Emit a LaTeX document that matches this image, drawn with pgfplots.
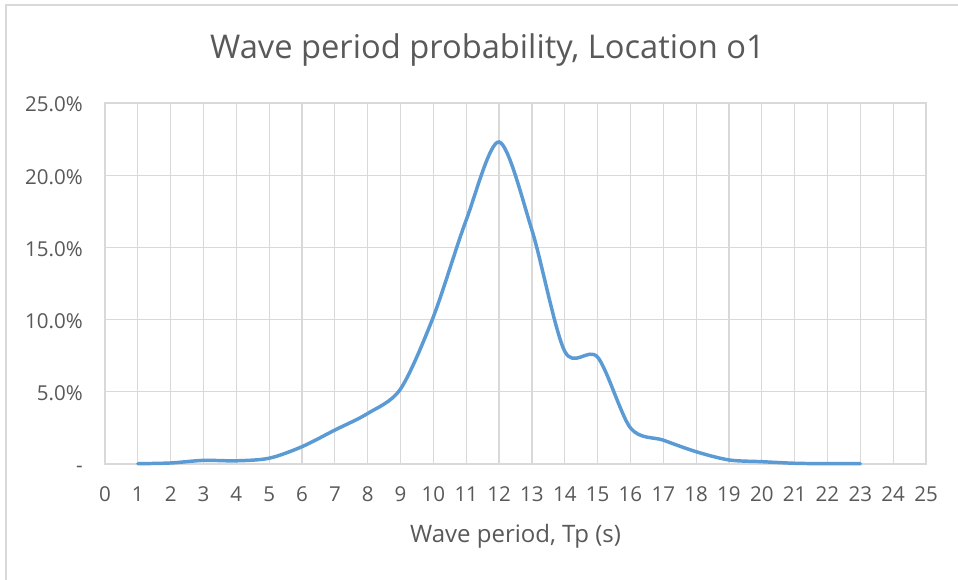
\documentclass[border=0pt]{standalone}
\usepackage{pgfplots}
\pgfplotsset{compat=1.18}
\usepackage{fontspec}
\setmainfont{Open Sans}

\definecolor{txtgray}{HTML}{595959}
\definecolor{gridgray}{HTML}{D9D9D9}
\definecolor{framegray}{HTML}{D9D9D9}
\definecolor{lineblue}{HTML}{5B9BD5}

\begin{document}
\begin{tikzpicture}
  % canvas: 958 x 580 px at 0.75pt per px, origin at the bottom left
  \useasboundingbox (0pt,0pt) rectangle (718.5pt,435pt);
  \fill[white] (0pt,0pt) rectangle (718.5pt,435pt);
  % chart area frame (top and left edges)
  \draw[framegray,line width=1.5pt] (4.5pt,0pt) -- (4.5pt,431.25pt) -- (718.5pt,431.25pt);

  \begin{axis}[
    at={(78.75pt,87pt)}, anchor=south west,
    scale only axis,
    width=615.75pt, height=270.75pt,
    xmin=0, xmax=25, ymin=0, ymax=25,
    xtick={0,1,...,25},
    ytick={0,5,10,15,20,25},
    yticklabels={-,5.0\%,10.0\%,15.0\%,20.0\%,25.0\%},
    /pgf/number format/assume math mode=true,
    major tick length=0pt,
    grid=major,
    grid style={gridgray, line width=0.9pt},
    axis line style={gridgray, line width=0.9pt},
    tick label style={font=\fontsize{15.4}{18}\selectfont, text=txtgray, inner sep=0pt},
    xticklabel style={anchor=base, yshift=-28.5pt},
    yticklabel style={anchor=base east, xshift=-16.5pt, yshift=-6.75pt},
    xlabel={Wave period, Tp (s)},
    xlabel style={font=\fontsize{18}{21}\selectfont, text=txtgray, inner sep=0pt,
      at={(axis description cs:0.5,0)}, anchor=base, yshift=-59.25pt},
    title={Wave period probability, Location o1},
    title style={font=\fontsize{24.5}{28}\selectfont, text=txtgray, inner sep=0pt,
      at={(axis description cs:0.5,1)}, anchor=base, yshift=27pt, xshift=-21pt},
    clip=false,
  ]
    \addplot[lineblue, line width=2.6pt, smooth, tension=0.5, line cap=round] coordinates {
      (1,0.02) (2,0.07) (3,0.25) (4,0.22) (5,0.40) (6,1.20) (7,2.35) (8,3.50)
      (9,5.20) (10,10.2) (11,16.9) (12,22.3) (13,16.2) (14,7.8) (15,7.4)
      (16,2.5) (17,1.65) (18,0.85) (19,0.28) (20,0.16) (21,0.05) (22,0.02) (23,0.02)
    };
  \end{axis}
\end{tikzpicture}
\end{document}
